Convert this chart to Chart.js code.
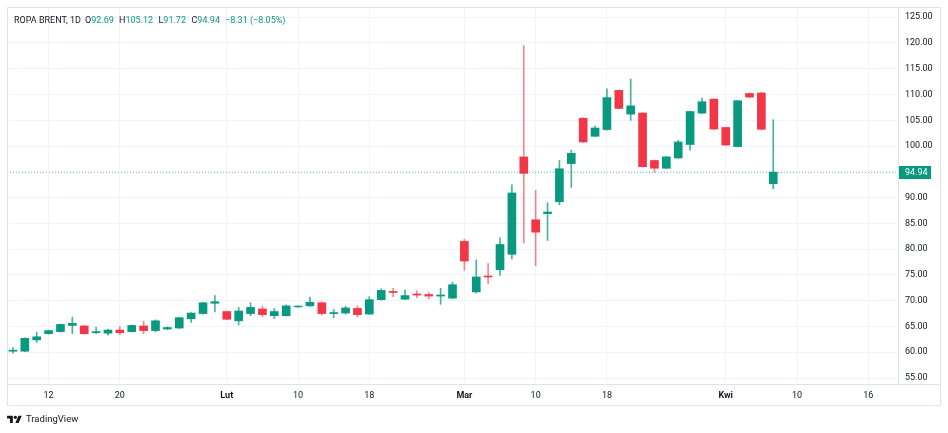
<!DOCTYPE html>
<html><head><meta charset="utf-8">
<script src="https://cdn.jsdelivr.net/npm/chart.js@4.4.1/dist/chart.umd.min.js"></script>
<style>
html,body{margin:0;padding:0;background:#fff;}
#wrap{position:relative;width:948px;height:433px;overflow:hidden;}
canvas{position:absolute;left:0;top:0;}
#hdr{position:absolute;left:0;top:13.5px;height:12px;font:9px Roboto, sans-serif;color:#131722;white-space:pre;line-height:12px;}
#hdr span.g{position:absolute;top:0;}
#hdr .v{color:#089981;}
#logo{position:absolute;left:7px;top:412px;height:14px;font:9.5px Roboto, sans-serif;color:#131722;line-height:14px;}
#logo svg{position:absolute;left:0;top:1.5px;}
#logo span{position:absolute;left:19px;top:0;white-space:nowrap;}
</style></head>
<body><div id="wrap"><canvas id="c" width="948" height="433"></canvas>
<div id="hdr"><span class="g" style="left:14px">ROPA BRENT, 1D</span><span class="g" style="left:85px">O<span class="v">92.69</span></span><span class="g" style="left:119px">H<span class="v">105.12</span></span><span class="g" style="left:158.5px">L<span class="v">91.72</span></span><span class="g" style="left:191.5px">C<span class="v">94.94</span></span><span class="g v" style="left:225px">−8.31 (−8.05%)</span></div>
<div id="logo"><svg width="15" height="11.6" viewBox="0 0 36 28"><path fill="#131722" d="M14 22H7V11H0V4h14v18zM28 22h-8l7.5-18h8L28 22z"/><circle fill="#131722" cx="20" cy="8" r="4"/></svg><span>TradingView</span></div>
</div>
<script>
// ---- data ----
const categories = [
 '2026-01-07','2026-01-08','2026-01-09','2026-01-12','2026-01-13','2026-01-14','2026-01-15','2026-01-16','2026-01-19','2026-01-20',
 '2026-01-21','2026-01-22','2026-01-23','2026-01-26','2026-01-27','2026-01-28','2026-01-29','2026-01-30',
 '2026-02-02','2026-02-03','2026-02-04','2026-02-05','2026-02-06','2026-02-09','2026-02-10','2026-02-11','2026-02-12','2026-02-13',
 '2026-02-16','2026-02-17','2026-02-18','2026-02-19','2026-02-20','2026-02-23','2026-02-24','2026-02-25','2026-02-26','2026-02-27',
 '2026-03-02','2026-03-03','2026-03-04','2026-03-05','2026-03-06','2026-03-09','2026-03-10','2026-03-11','2026-03-12','2026-03-13',
 '2026-03-16','2026-03-17','2026-03-18','2026-03-19','2026-03-20','2026-03-23','2026-03-24','2026-03-25','2026-03-26','2026-03-27',
 '2026-03-30','2026-03-31',
 '2026-04-01','2026-04-02','2026-04-06','2026-04-07','2026-04-08',
 '2026-04-09','2026-04-10','2026-04-11','2026-04-12','2026-04-13','2026-04-14','2026-04-15','2026-04-16','2026-04-17','2026-04-18'
];
const opens  = [60.2,60.2,62.4,63.6,64.0,65.2,65.1,63.8,63.7,64.3, 64.0,65.1,64.2,64.5,64.7,66.5,67.5,69.5, 67.9,66.1,67.5,68.4,67.1,67.1,68.8,69.0,69.6,67.5, 67.6,68.5,67.4,70.2,71.8,70.3,71.3,71.2,70.9,70.5, 81.5,71.7,74.8,76.0,79.0,97.9,85.7,86.9,89.2,96.6, 105.4,101.9,103.2,110.8,106.2,106.4,97.2,95.7,97.7,100.3, 106.4,109.1, 103.6,99.9,110.2,110.3,92.69];
const highs  = [60.9,62.8,63.9,64.3,65.5,66.8,65.2,64.9,64.5,65.0, 65.3,66.0,66.3,64.9,66.8,67.7,69.7,71.0, 68.0,68.7,69.6,68.9,68.5,69.2,69.0,70.7,69.8,68.3, 68.9,69.0,70.8,72.3,72.4,72.1,71.9,71.6,72.4,73.6, 81.9,77.9,77.2,82.2,92.5,119.5,91.4,89.0,97.2,99.2, 105.5,103.9,111.1,110.9,113.0,106.5,97.3,98.0,101.1,106.8, 109.3,109.2, 103.7,108.9,110.3,110.4,105.12];
const lows   = [59.8,60.1,61.9,63.5,63.9,63.6,63.5,63.6,63.3,63.4, 63.9,63.6,64.0,64.4,64.6,65.8,67.4,67.8, 66.3,65.3,67.1,66.9,66.5,67.0,68.7,68.9,67.2,66.7, 67.4,66.8,67.3,70.1,70.8,70.2,70.6,70.4,69.3,70.4, 75.9,71.5,73.3,74.9,78.1,81.2,76.8,81.7,88.6,92.0, 100.7,101.8,103.1,107.2,105.0,95.9,94.9,95.6,97.6,99.2, 106.3,103.2, 100.1,99.8,109.4,103.15,91.72];
const closes = [60.4,62.7,63.0,64.2,65.4,65.6,63.6,64.0,64.3,63.8, 65.2,64.2,66.1,64.8,66.7,67.6,69.6,69.8, 66.4,68.0,68.7,67.3,67.9,69.0,68.95,69.7,67.5,67.7, 68.6,67.3,70.2,72.0,71.6,71.0,71.1,70.9,71.1,73.1, 77.7,74.6,74.6,80.9,90.9,94.7,83.3,87.2,95.6,98.6, 100.8,103.5,109.4,107.3,107.8,96.0,95.7,97.9,100.8,106.7, 108.6,103.3, 100.2,108.8,109.5,103.25,94.94];
const tickDates = ['2026-01-12','2026-01-20','2026-02-02','2026-02-10','2026-02-18','2026-03-02','2026-03-10','2026-03-18','2026-04-01','2026-04-10','2026-04-16'];
const tickTexts = ['12','20','Lut','10','18','Mar','10','18','Kwi','10','16'];
const monthTexts = ['Lut','Mar','Kwi'];
const lastClose = closes[closes.length-1];

const UP = '#089981', DOWN = '#F23645';
const isUp = i => closes[i] >= opens[i];
const FONT = 'Roboto, "Noto Sans", sans-serif';

const framePlugin = {
  id:'frame',
  afterDraw(chart){
    const {ctx, chartArea:a, scales} = chart;
    const y = scales.y;
    ctx.save();
    // price line
    const py = Math.round(y.getPixelForValue(lastClose)) + 0.5;
    ctx.strokeStyle = 'rgba(8,153,129,0.55)'; ctx.lineWidth = 1; ctx.setLineDash([1,2]);
    ctx.beginPath(); ctx.moveTo(a.left, py); ctx.lineTo(a.right, py); ctx.stroke();
    ctx.setLineDash([]);
    // frame
    ctx.strokeStyle = '#e0e3eb';
    const L = Math.round(a.left) + 0.5, T = Math.round(a.top) + 0.5, R = Math.round(y.right) + 0.5, B = Math.round(chart.scales.x.bottom) + 0.5;
    ctx.beginPath();
    ctx.rect(L, T, R - L, B - T);
    ctx.moveTo(L, Math.round(a.bottom) + 0.5); ctx.lineTo(R, Math.round(a.bottom) + 0.5);
    ctx.moveTo(Math.round(a.right) + 0.5, T); ctx.lineTo(Math.round(a.right) + 0.5, Math.round(a.bottom) + 0.5);
    ctx.stroke();
    // price label
    ctx.fillStyle = UP;
    const bx = Math.round(a.right) + 1, bw = 32, bh = 13;
    ctx.fillRect(bx, py - 6.5, bw, bh);
    ctx.fillStyle = '#ffffff';
    ctx.font = '9px ' + FONT;
    ctx.textBaseline = 'middle'; ctx.textAlign = 'left';
    ctx.fillText(lastClose.toFixed(2), bx + 6, py + 0.5);
    ctx.restore();
  }
};

const noPad = s => { s.paddingTop = 0; s.paddingBottom = 0; s.paddingLeft = 0; s.paddingRight = 0; };

new Chart(document.getElementById('c'), {
  type:'bar',
  data:{
    labels: categories,
    datasets:[
      { label:'bodies', data: opens.map((o,i)=>[o, closes[i]]), grouped:false, order:0,
        barThickness:8, borderWidth:0, borderSkipped:false,
        backgroundColor: c => isUp(c.dataIndex) ? UP : DOWN },
      { label:'wicks', data: lows.map((l,i)=>[l, highs[i]]), grouped:false, order:1,
        barThickness:1, borderWidth:0, borderSkipped:false,
        backgroundColor: c => isUp(c.dataIndex) ? 'rgba(8,153,129,0.75)' : 'rgba(242,54,69,0.6)' }
    ]
  },
  options:{
    responsive:false, animation:false,
    layout:{ padding:{ left:7, right:8, top:7, bottom:28 } },
    plugins:{ legend:{display:false}, tooltip:{enabled:false} },
    scales:{
      x:{
        type:'category', offset:true,
        grid:{ offset:false, color:'#f0f3fa', drawTicks:false },
        border:{ display:false },
        afterBuildTicks: s => { const lb = s.getLabels(); s.ticks = s.ticks.filter(t => tickDates.includes(lb[t.value])); },
        ticks:{
          autoSkip:false, maxRotation:0, padding:6, color:'#131722',
          font: c => ({ family: FONT, size: 9, weight: (c.tick && monthTexts.includes(c.tick.label)) ? 'bold' : 'normal' }),
          callback: function(v){ const k = tickDates.indexOf(this.getLabelForValue(v)); return k >= 0 ? tickTexts[k] : ''; }
        },
        afterFit: s => { s.height = 21; noPad(s); }
      },
      y:{
        position:'right', min:53.84, max:126.98,
        grid:{ color:'#f0f3fa', drawTicks:false },
        border:{ display:false },
        ticks:{ stepSize:5, includeBounds:false, padding:7, color:'#131722',
          font:{ family: FONT, size: 9 },
          callback: v => Math.abs(v - lastClose) < 2.5 ? '' : Number(v).toFixed(2) },
        afterFit: s => { s.width = 42; noPad(s); }
      }
    }
  },
  plugins:[framePlugin]
});
</script>
</body></html>
